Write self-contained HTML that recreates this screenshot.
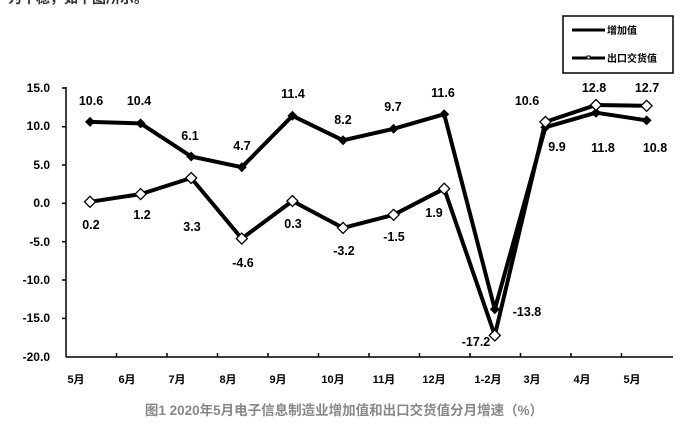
<!DOCTYPE html>
<html><head><meta charset="utf-8"><style>
body{margin:0;background:#fff;width:684px;height:436px;overflow:hidden}
text{font-family:"Liberation Sans","Noto Sans CJK SC",sans-serif;font-weight:bold}
</style></head><body>
<svg width="684" height="436" viewBox="0 0 684 436" xmlns="http://www.w3.org/2000/svg">
<text x="8" y="3" font-size="14" fill="#333" font-weight="normal">为平稳，如下图所示。</text>
<!-- legend -->
<rect x="563" y="16" width="110" height="57" fill="#fff" stroke="#000" stroke-width="1.5"/>
<line x1="572" y1="30" x2="605" y2="30" stroke="#000" stroke-width="3"/>
<text x="607" y="34" font-size="10">增加值</text>
<line x1="572" y1="58" x2="605" y2="58" stroke="#000" stroke-width="3"/>
<rect x="587" y="56" width="3" height="3" fill="#fff" stroke="#000" stroke-width="1"/>
<text x="607" y="62" font-size="10">出口交货值</text>
<!-- y axis -->
<g font-size="12" text-anchor="end">
<text x="50" y="92">15.0</text><text x="50" y="130">10.0</text><text x="50" y="169">5.0</text>
<text x="50" y="207">0.0</text><text x="50" y="246">-5.0</text><text x="50" y="284">-10.0</text>
<text x="50" y="322">-15.0</text><text x="50" y="361">-20.0</text>
</g>
<g stroke="#000" stroke-width="1.5">
<line x1="66" y1="87" x2="66" y2="357"/>
<line x1="66" y1="357" x2="673" y2="357"/>
<line x1="62" y1="88" x2="66" y2="88"/><line x1="62" y1="126.7" x2="66" y2="126.7"/>
<line x1="62" y1="165" x2="66" y2="165"/><line x1="62" y1="203.3" x2="66" y2="203.3"/>
<line x1="62" y1="241.7" x2="66" y2="241.7"/><line x1="62" y1="280" x2="66" y2="280"/>
<line x1="62" y1="318.4" x2="66" y2="318.4"/>
<line x1="116.5" y1="353" x2="116.5" y2="357"/><line x1="167" y1="353" x2="167" y2="357"/>
<line x1="217.5" y1="353" x2="217.5" y2="357"/><line x1="268" y1="353" x2="268" y2="357"/>
<line x1="318.5" y1="353" x2="318.5" y2="357"/><line x1="369" y1="353" x2="369" y2="357"/>
<line x1="419.5" y1="353" x2="419.5" y2="357"/><line x1="470" y1="353" x2="470" y2="357"/>
<line x1="520.5" y1="353" x2="520.5" y2="357"/><line x1="571" y1="353" x2="571" y2="357"/>
<line x1="621.5" y1="353" x2="621.5" y2="357"/>
</g>
<g font-size="11" text-anchor="middle">
<text x="76" y="383">5月</text><text x="127" y="383">6月</text><text x="177" y="383">7月</text>
<text x="228" y="383">8月</text><text x="278" y="383">9月</text><text x="333" y="383">10月</text>
<text x="384" y="383">11月</text><text x="434" y="383">12月</text><text x="488" y="383">1-2月</text>
<text x="532" y="383">3月</text><text x="582" y="383">4月</text><text x="632" y="383">5月</text>
</g>
<!-- series: increase -->
<polyline fill="none" stroke="#000" stroke-width="4" stroke-linejoin="round" points="90,121.9 140.6,123.4 191.2,156.5 241.8,167.2 292.4,115.8 343,140.3 393.6,128.8 444.2,114.2 494.8,309.3 545.4,127.3 596,112.7 646.6,120.4"/>
<g fill="#000">
<path d="M90,116.9l5,5l-5,5l-5-5z"/><path d="M140.6,118.4l5,5l-5,5l-5-5z"/><path d="M191.2,151.5l5,5l-5,5l-5-5z"/>
<path d="M241.8,162.2l5,5l-5,5l-5-5z"/><path d="M292.4,110.8l5,5l-5,5l-5-5z"/><path d="M343,135.3l5,5l-5,5l-5-5z"/>
<path d="M393.6,123.8l5,5l-5,5l-5-5z"/><path d="M444.2,109.2l5,5l-5,5l-5-5z"/><path d="M494.8,304.3l5,5l-5,5l-5-5z"/>
<path d="M545.4,122.3l5,5l-5,5l-5-5z"/><path d="M596,107.7l5,5l-5,5l-5-5z"/><path d="M646.6,115.4l5,5l-5,5l-5-5z"/>
</g>
<!-- series: export -->
<polyline fill="none" stroke="#000" stroke-width="4" stroke-linejoin="round" points="90,201.8 140.6,194.1 191.2,178 241.8,238.6 292.4,201 343,227.9 393.6,214.8 444.2,188.7 494.8,335.4 545.4,121.9 596,105 646.6,105.8"/>
<g fill="#fff" stroke="#000" stroke-width="1.3">
<path d="M90,196.3l5.5,5.5l-5.5,5.5l-5.5-5.5z"/><path d="M140.6,188.6l5.5,5.5l-5.5,5.5l-5.5-5.5z"/><path d="M191.2,172.5l5.5,5.5l-5.5,5.5l-5.5-5.5z"/>
<path d="M241.8,233.1l5.5,5.5l-5.5,5.5l-5.5-5.5z"/><path d="M292.4,195.5l5.5,5.5l-5.5,5.5l-5.5-5.5z"/><path d="M343,222.4l5.5,5.5l-5.5,5.5l-5.5-5.5z"/>
<path d="M393.6,209.3l5.5,5.5l-5.5,5.5l-5.5-5.5z"/><path d="M444.2,183.2l5.5,5.5l-5.5,5.5l-5.5-5.5z"/><path d="M494.8,329.9l5.5,5.5l-5.5,5.5l-5.5-5.5z"/>
<path d="M545.4,116.4l5.5,5.5l-5.5,5.5l-5.5-5.5z"/><path d="M596,99.5l5.5,5.5l-5.5,5.5l-5.5-5.5z"/><path d="M646.6,100.3l5.5,5.5l-5.5,5.5l-5.5-5.5z"/>
</g>
<g font-size="12.5" text-anchor="middle">
<text x="91" y="105">10.6</text><text x="139" y="105">10.4</text><text x="190" y="140">6.1</text>
<text x="242" y="150">4.7</text><text x="293" y="98">11.4</text><text x="343" y="124">8.2</text>
<text x="393" y="111">9.7</text><text x="443" y="97">11.6</text><text x="527" y="316">-13.8</text>
<text x="557" y="151">9.9</text><text x="603" y="152">11.8</text><text x="655" y="152">10.8</text>
<text x="91" y="229">0.2</text><text x="142" y="219">1.2</text><text x="192" y="231">3.3</text>
<text x="243" y="267">-4.6</text><text x="293" y="228">0.3</text><text x="344" y="255">-3.2</text>
<text x="394" y="241">-1.5</text><text x="434" y="217">1.9</text><text x="476" y="346">-17.2</text>
<text x="527" y="105">10.6</text><text x="594" y="92">12.8</text><text x="647" y="92">12.7</text>
</g>
<text x="344" y="415" font-size="13.5" fill="#888" text-anchor="middle">图1  2020年5月电子信息制造业增加值和出口交货值分月增速（%）</text>
</svg>
</body></html>
